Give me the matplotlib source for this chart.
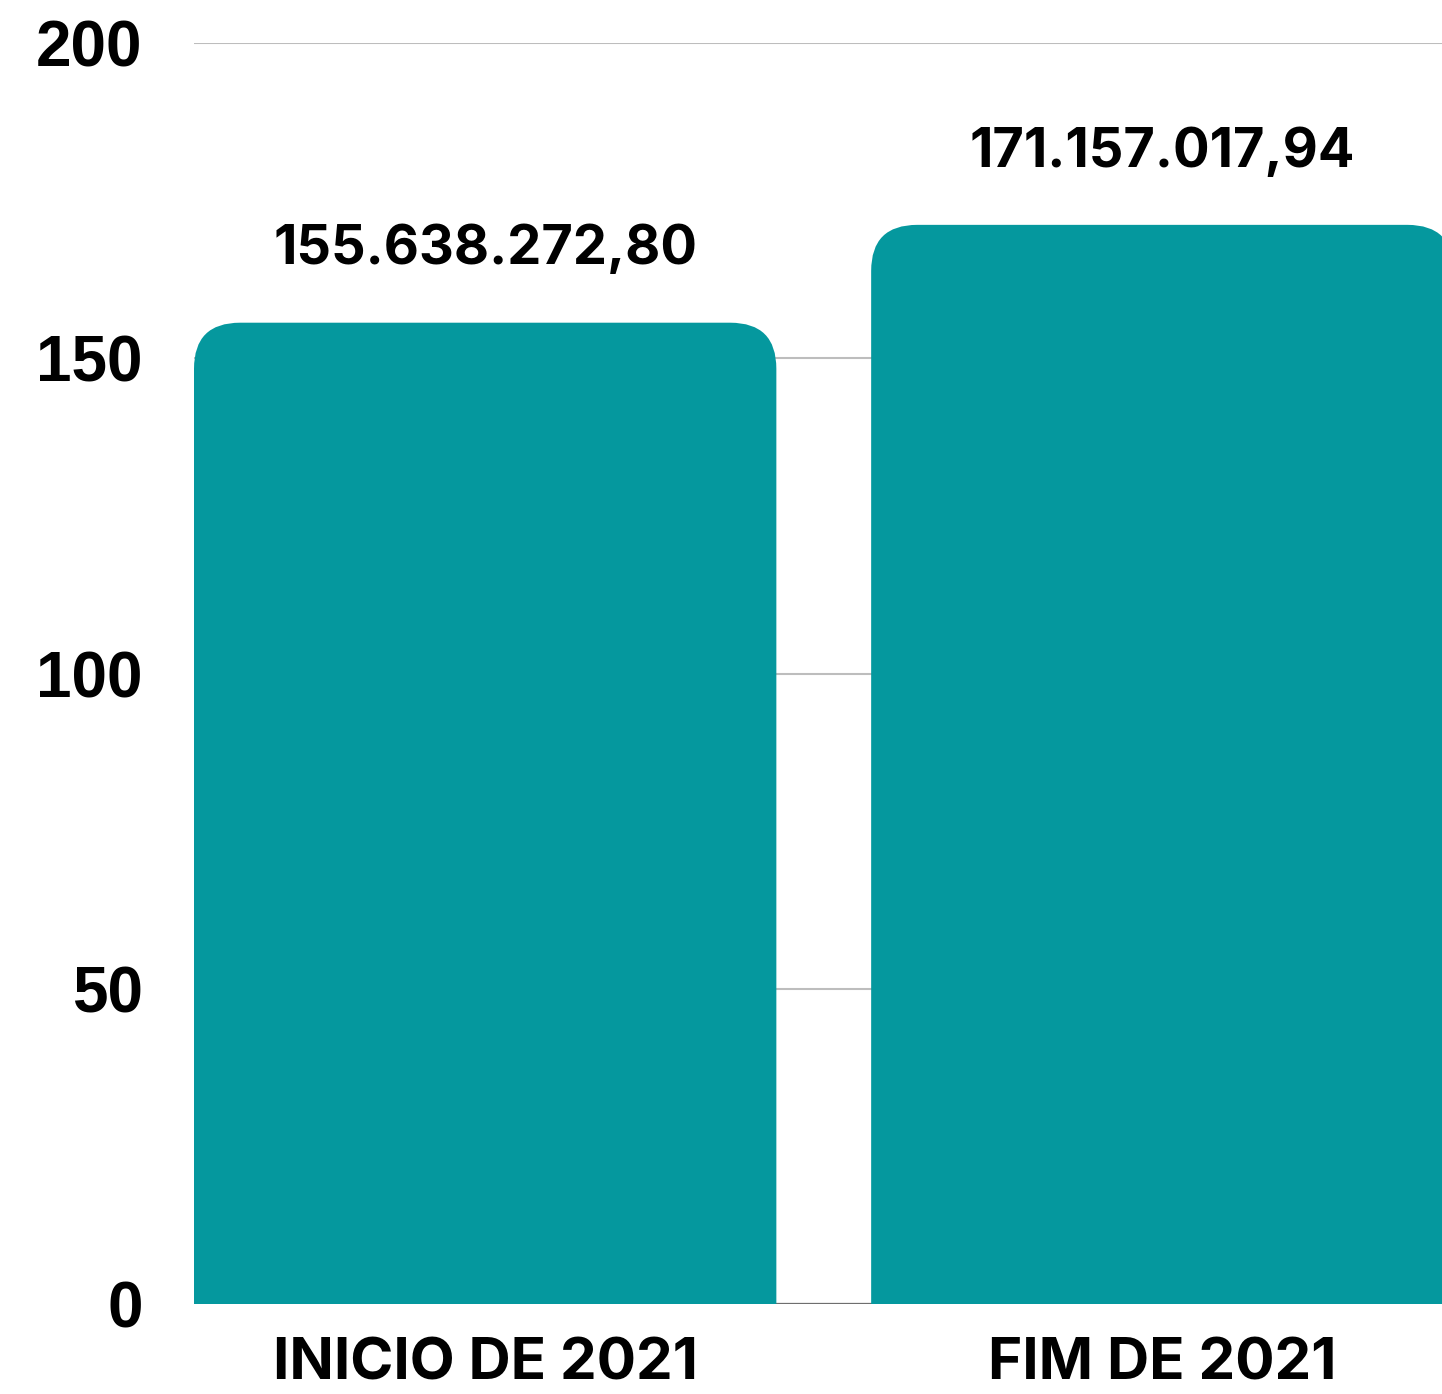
import matplotlib
matplotlib.use("Agg")
import matplotlib.pyplot as plt
from matplotlib.patches import FancyBboxPatch

categories = ["INICIO DE 2021", "FIM DE 2021"]
values = [155.63827280, 171.15701794]          # milhões de reais
value_labels = ["155.638.272,80", "171.157.017,94"]
yticks = [0, 50, 100, 150, 200]

teal = "#05989e"
W, H = 1442, 1394
fig = plt.figure(figsize=(W / 100, H / 100), dpi=100)
ax = fig.add_axes([194 / W, 1 - 1304 / H, 1 - 194 / W, (1304 - 43) / H])

ax.set_xlim(-0.43, 1.413)
ax.set_ylim(0, 200)
ax.set_axisbelow(True)
ax.yaxis.grid(True, color="#bdbdbd", linewidth=1.5)
for s in ax.spines.values():
    s.set_visible(False)
ax.axhline(0, color="#6e6e6e", linewidth=1.6, zorder=1)

x = range(len(categories))
bars = ax.bar(x, values, width=0.86, color=teal)

# rounded tops: swap each bar for a rounded box that starts below zero
bb = ax.get_position()
px_x = bb.width * W / (ax.get_xlim()[1] - ax.get_xlim()[0])
px_y = bb.height * H / (ax.get_ylim()[1] - ax.get_ylim()[0])
r = 46 / px_x
for b in bars:
    x0, w, h = b.get_x(), b.get_width(), b.get_height()
    p = FancyBboxPatch((x0, -20), w, h + 20,
                       boxstyle=f"round,pad=0,rounding_size={r}",
                       mutation_aspect=px_x / px_y,
                       facecolor=teal, edgecolor="none", zorder=2)
    ax.add_patch(p)
    b.remove()

for xi, v, lab in zip(x, values, value_labels):
    ax.annotate(lab, (xi, v), xytext=(0, 42), textcoords="offset points",
                ha="center", va="baseline", fontsize=39,
                family="Inter", fontweight="bold", color="black")

ax.set_xticks(list(x))
ax.set_xticklabels(categories, fontsize=42, family="Inter", fontweight="bold")
ax.set_yticks(yticks)
ax.set_yticklabels([str(t) for t in yticks], fontsize=46,
                   family="Liberation Sans", fontweight="bold")
ax.tick_params(axis="both", length=0)
ax.tick_params(axis="y", pad=37)
ax.tick_params(axis="x", pad=24)

fig.savefig("out.png", dpi=100, facecolor="white")
